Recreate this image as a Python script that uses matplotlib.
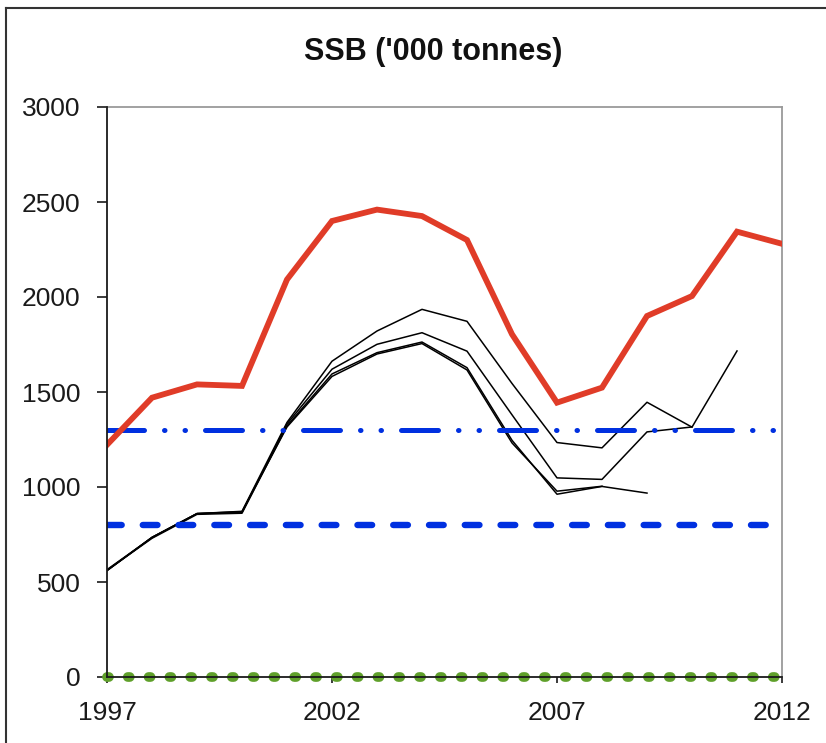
import matplotlib
matplotlib.use('Agg')
import matplotlib.pyplot as plt
from matplotlib.lines import Line2D

plt.rcParams['font.family'] = ['Liberation Sans', 'DejaVu Sans']

years = [1997, 1998, 1999, 2000, 2001, 2002, 2003, 2004, 2005, 2006,
         2007, 2008, 2009, 2010, 2011, 2012]

# current assessment
ssb = [1222, 1470, 1540, 1532, 2092, 2400, 2460, 2426, 2300, 1804,
       1444, 1523, 1900, 2005, 2344, 2280]

# retrospective runs (one per terminal year)
retro_2011 = [560, 735, 860, 872, 1340, 1662, 1821, 1935, 1872, 1545,
              1234, 1206, 1446, 1315, 1716]
retro_2010 = [560, 735, 860, 866, 1332, 1620, 1751, 1812, 1715, 1380,
              1048, 1040, 1290, 1316]
retro_2009 = [562, 730, 856, 862, 1322, 1595, 1707, 1763, 1628, 1246,
              962, 1003, 968]
retro_2008 = [565, 734, 860, 870, 1316, 1582, 1700, 1755, 1616, 1232,
              978, 1004]
retros = [retro_2011, retro_2010, retro_2009, retro_2008]

bpa = 1300
blim = 800
flim_line = 0

fig = plt.figure(figsize=(8.26, 7.43), dpi=100)
ax = fig.add_axes([107/826, 1-677/743, 675/826, 570/743])

for r in retros:
    ax.plot(years[:len(r)], r, color='black', lw=1.1, zorder=3)

ax.plot(years, [bpa]*len(years), color='#0030E0', lw=3.6,
        dashes=(7.4, 4.0, 0.1, 4.0, 0.1, 4.0), dash_capstyle='round', zorder=4)
ax.plot(years, [blim]*len(years), color='#0030E0', lw=4.6,
        dashes=(2.3, 3.3), dash_capstyle='round', zorder=4)
ax.plot(years, [flim_line]*len(years), color='#5FA02A', lw=7,
        dashes=(0.2, 1.94), dash_capstyle='round', zorder=2, clip_on=False)

ax.plot(years, ssb, color='#E03C28', lw=4.2, solid_joinstyle='miter', zorder=5)

ax.set_xlim(1997, 2012)
ax.set_ylim(0, 3000)
ax.set_xticks([1997, 2002, 2007, 2012])
ax.set_yticks(range(0, 3001, 500))
ax.tick_params(axis='y', direction='out', length=7, width=1.2, pad=12,
               labelsize=19, colors='#1a1a1a')
ax.tick_params(axis='x', direction='out', length=4, width=1.2, pad=13,
               labelsize=19, colors='#1a1a1a')

for s in ['left', 'bottom']:
    ax.spines[s].set_color('#1a1a1a')
    ax.spines[s].set_linewidth(1.3)
    ax.spines[s].set_zorder(6)
for s in ['top', 'right']:
    ax.spines[s].set_color('#9a9a9a')
    ax.spines[s].set_linewidth(1.3)

fig.text(433/826, 1-52/743, "SSB ('000 tonnes)", ha='center', va='center',
         fontsize=22, fontweight='bold', color='#111111')

# outer frame (cut off at right and bottom)
fig.add_artist(Line2D([6/826, 6/826], [0, 1-8/743], transform=fig.transFigure,
                      color='#333333', lw=1.5))
fig.add_artist(Line2D([6/826, 1], [1-8/743, 1-8/743], transform=fig.transFigure,
                      color='#333333', lw=1.5))

fig.savefig('out.png', dpi=100)
